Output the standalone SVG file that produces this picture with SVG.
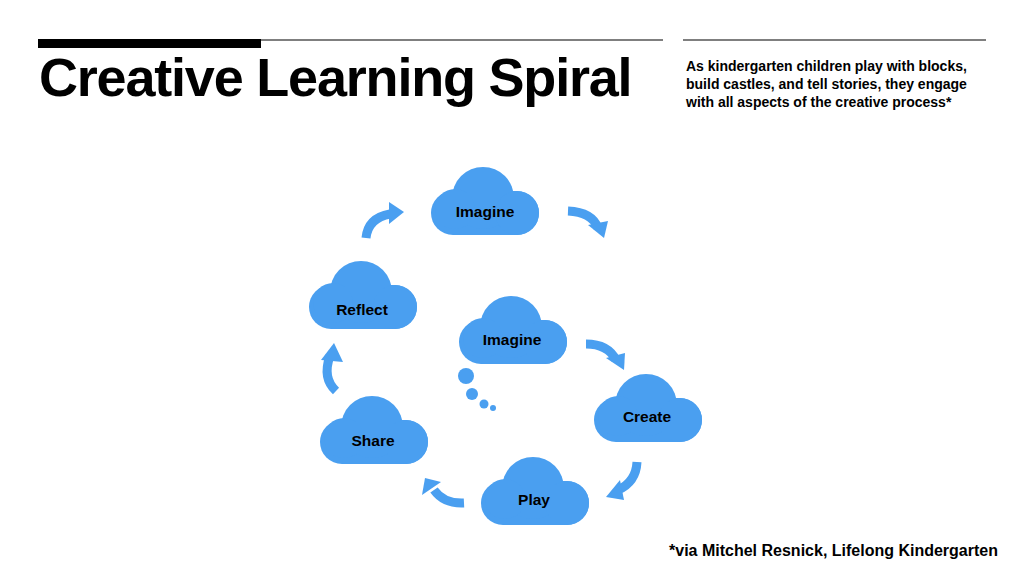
<svg xmlns="http://www.w3.org/2000/svg" xmlns:xlink="http://www.w3.org/1999/xlink" width="1024" height="576" viewBox="0 0 1024 576">
<style>
text{font-family:"Liberation Sans",Arial,sans-serif;font-weight:bold;fill:#000}
.lbl{font-size:15.5px;text-anchor:middle}
.cl{fill:#4a9ff0}
.arc{fill:none;stroke:#4a9ff0;stroke-width:9}
.hd{fill:#4a9ff0}
</style>
<defs>
<g id="cloud" class="cl">
<rect x="0" y="24" width="108" height="44" rx="22"/>
<circle cx="52" cy="31" r="31"/>
<circle cx="24" cy="42" r="20"/>
<circle cx="86" cy="46" r="22"/>
</g>
</defs>
<rect width="1024" height="576" fill="#fff"/>
<rect x="38" y="39" width="223" height="9" fill="#000"/>
<line x1="261" y1="40" x2="663" y2="40" stroke="#000" stroke-width="1.2"/>
<line x1="683" y1="40" x2="986" y2="40" stroke="#000" stroke-width="1.2"/>
<text x="39" y="96" font-size="54" letter-spacing="-1.2">Creative Learning Spiral</text>
<text font-size="14"><tspan x="686" y="71">As kindergarten children play with blocks,</tspan><tspan x="686" y="89">build castles, and tell stories, they engage</tspan><tspan x="686" y="107">with all aspects of the creative process*</tspan></text>
<text x="998" y="556" font-size="16" text-anchor="end">*via Mitchel Resnick, Lifelong Kindergarten</text>
<g id="node-imagine-top"><use xlink:href="#cloud" x="431" y="167"/><text class="lbl" x="485" y="217">Imagine</text></g>
<g id="node-reflect"><use xlink:href="#cloud" x="309" y="261"/><text class="lbl" x="362" y="315">Reflect</text></g>
<g id="node-imagine-inner"><use xlink:href="#cloud" x="459" y="296"/><text class="lbl" x="512" y="345">Imagine</text>
<g class="hd"><circle cx="466" cy="376" r="8"/><circle cx="472" cy="394" r="6"/><circle cx="484" cy="404" r="4.5"/><circle cx="493" cy="408" r="3"/></g></g>
<g id="node-create"><use xlink:href="#cloud" x="594" y="374"/><text class="lbl" x="647" y="422">Create</text></g>
<g id="node-share"><use xlink:href="#cloud" x="320" y="396"/><text class="lbl" x="373" y="446">Share</text></g>
<g id="node-play"><use xlink:href="#cloud" x="481" y="457"/><text class="lbl" x="534" y="505">Play</text></g>
<g id="connectors">
<path class="arc" d="M366 238 Q368 218 390 214"/><polygon class="hd" points="389,202 404,212 389,224"/>
<path class="arc" d="M568 211 Q592 212 598 228"/><polygon class="hd" points="588,225 604,238 608,221"/>
<path class="arc" d="M586 344 Q608 344 616 360"/><polygon class="hd" points="606,358 624,370 625,353"/>
<path class="arc" d="M637 462 Q636 482 618 490"/><polygon class="hd" points="620,480 606,497 624,500"/>
<path class="arc" d="M464 503 Q444 504 434 490"/><polygon class="hd" points="422,495 425,478 441,482"/>
<path class="arc" d="M336 391 Q322 378 330 356"/><polygon class="hd" points="321,360 334,343 343,362"/>
</g>
</svg>
